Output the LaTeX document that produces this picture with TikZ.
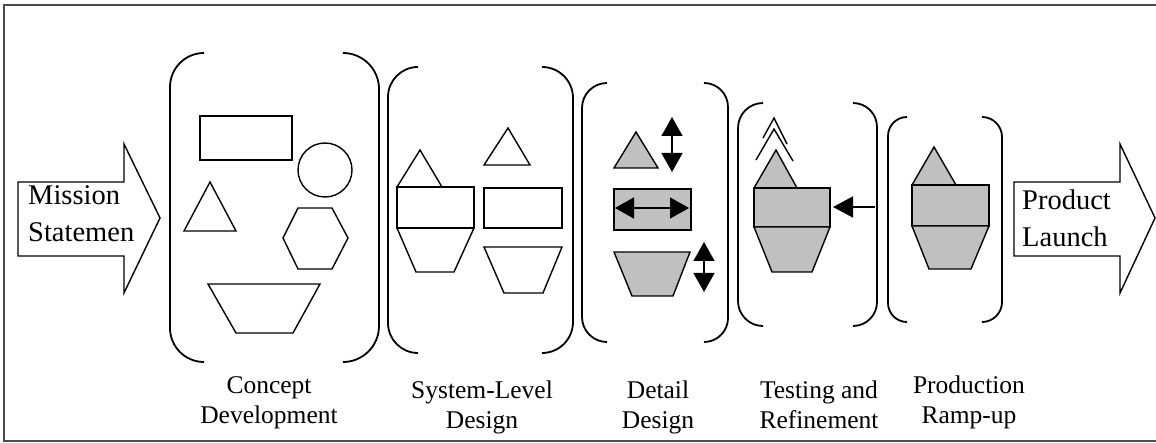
\documentclass[tikz,border=0pt]{standalone}
\usepackage{fontspec}
\setmainfont{Liberation Serif}
\usetikzlibrary{arrows.meta}
\definecolor{shade}{HTML}{C0C0C0}
\newcommand\bracketpair[6]{%
  \draw[paren,rounded corners=#2-#1] (#2,#5) -- (#1,#5) -- (#1,#6) -- (#2,#6);
  \draw[paren,rounded corners=#3-#4] (#4,#5) -- (#3,#5) -- (#3,#6) -- (#4,#6);
}
\begin{document}
\begin{tikzpicture}[x=1pt,y=-1pt,
  shp/.style={draw=black,line width=1.4pt,line join=miter},
  gshp/.style={shp,fill=shade},
  paren/.style={draw=black,line width=1.8pt},
  lbl/.style={font=\fontsize{25.5}{30}\selectfont,align=center,anchor=base,inner sep=0pt},
  big/.style={font=\fontsize{28.5}{37}\selectfont,align=left,anchor=base west,inner sep=0pt},
  dbl/.style={line width=1.4pt,{Triangle[length=19pt,width=21pt]}-{Triangle[length=19pt,width=21pt]}},
  sgl/.style={line width=1.4pt,-{Triangle[length=20pt,width=21pt]}},
]
\useasboundingbox (0,0) rectangle (1156,443);
\draw[black!70,line width=1.3pt] (1156,5) -- (4,5) -- (4,441) -- (1156,441);

% side arrows
\draw[shp] (18,182) -- (124,182) -- (124,144) -- (160,218) -- (124,293) -- (124,256) -- (18,256) -- cycle;
\node[big] (mission) at (28,242) {Mission\\Statemen};
\draw[shp] (1014,182) -- (1120,182) -- (1120,144) -- (1155,218) -- (1120,293) -- (1120,256) -- (1014,256) -- cycle;
\node[big] (launch) at (1022,247) {Product\\Launch};

% brackets
\bracketpair{170}{204}{379}{343}{53}{362}
\bracketpair{388}{418}{573}{542}{67}{353}
\bracketpair{582}{607}{728}{704}{83}{342}
\bracketpair{738}{763}{877}{853}{103}{326}
\bracketpair{888}{907}{1002}{982}{117}{322}

% concept development
\draw[shp] (200,116) rectangle (292,160);
\draw[shp] (325,170) circle[radius=27];
\draw[shp] (210,182) -- (236,231) -- (184,231) -- cycle;
\draw[shp] (283,238) -- (298,208) -- (332,208) -- (348,238) -- (332,269) -- (298,269) -- cycle;
\draw[shp] (208,284) -- (320,284) -- (293,333) -- (236,333) -- cycle;

% system-level design
\draw[shp] (397,187) -- (420,150) -- (442,187);
\draw[shp] (397,187) rectangle (474,228);
\draw[shp] (397,228) -- (416,272) -- (454,272) -- (474,228);
\draw[shp] (484,165) -- (508,128) -- (530,165) -- cycle;
\draw[shp] (484,188) rectangle (562,228);
\draw[shp] (484,247) -- (562,247) -- (543,293) -- (504,293) -- cycle;

% detail design
\draw[gshp] (614,168) -- (636,132) -- (658,168) -- cycle;
\coordinate (da1) at (672,117); \coordinate (da2) at (672,172);
\draw[dbl] (da1) -- (da2);
\draw[gshp] (614,189) rectangle (691,230);
\coordinate (db1) at (615,208); \coordinate (db2) at (689,208);
\draw[dbl] (db1) -- (db2);
\draw[gshp] (614,252) -- (690,252) -- (673,296) -- (632,296) -- cycle;
\coordinate (dc1) at (704,242); \coordinate (dc2) at (704,292);
\draw[dbl] (dc1) -- (dc2);

% testing and refinement
\draw[gshp] (754,188) -- (776,150) -- (797,188) -- cycle;
\draw[gshp] (754,188) rectangle (830,227);
\draw[gshp] (754,227) -- (830,227) -- (812,272) -- (772,272) -- cycle;
\draw[shp] (763,138) -- (774,118) -- (787,144);
\draw[shp] (756,160) -- (774,129) -- (793,161);
\coordinate (ta1) at (875,207); \coordinate (ta2) at (833,207);
\draw[sgl] (ta1) -- (ta2);

% production ramp-up
\draw[gshp] (912,185) -- (934,147) -- (956,185) -- cycle;
\draw[gshp] (912,185) rectangle (989,226);
\draw[gshp] (912,226) -- (989,226) -- (971,269) -- (929,269) -- cycle;

% labels
\node[lbl] (concept) at (269,423) {Concept\\Development};
\node[lbl] (sysdes) at (482,428) {System-Level\\Design};
\node[lbl] (detdes) at (658,428) {Detail\\Design};
\node[lbl] (testref) at (819,428) {Testing and\\Refinement};
\node[lbl] (ramp) at (969,423) {Production\\Ramp-up};
\end{tikzpicture}
\end{document}
